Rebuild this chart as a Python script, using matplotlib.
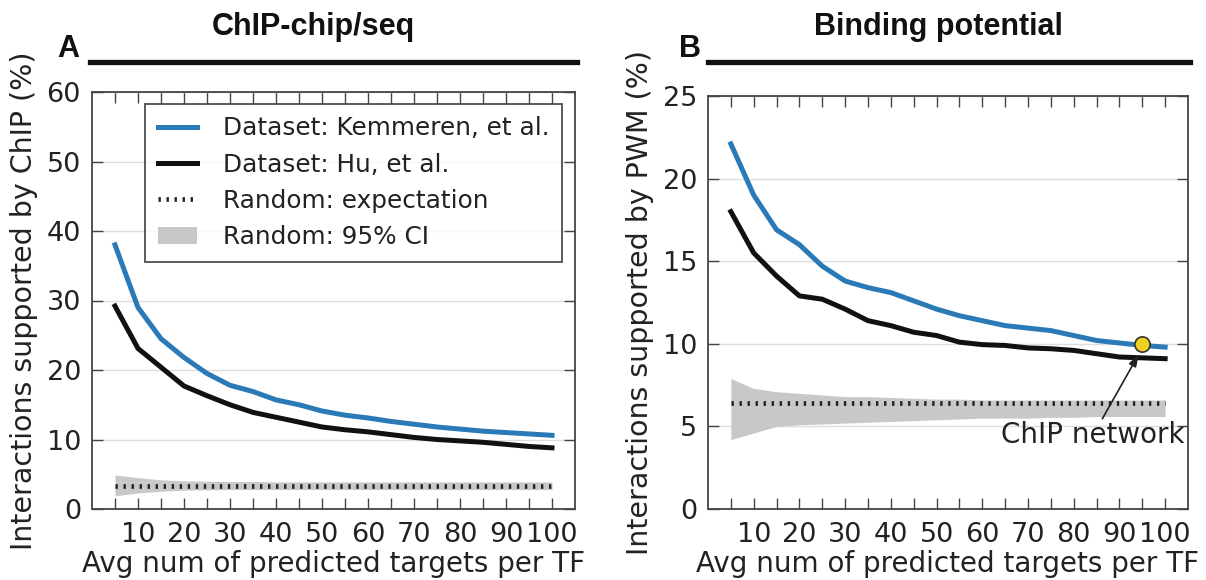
import numpy as np
import matplotlib
matplotlib.use("Agg")
import matplotlib.pyplot as plt
from matplotlib.lines import Line2D
from matplotlib.patches import Patch

x = [5, 10, 15, 20, 25, 30, 35, 40, 45, 50, 55, 60, 65, 70, 75, 80, 85, 90, 95, 100]

chip_kemmeren = [38.0, 29.0, 24.5, 21.8, 19.5, 17.8, 16.9, 15.7, 15.0, 14.1,
                 13.5, 13.1, 12.6, 12.2, 11.8, 11.5, 11.2, 11.0, 10.8, 10.6]
chip_hu = [29.2, 23.1, 20.4, 17.7, 16.3, 15.0, 13.9, 13.2, 12.5, 11.8,
           11.4, 11.1, 10.7, 10.3, 10.0, 9.8, 9.6, 9.3, 9.0, 8.8]
chip_rand = [3.3] * 20
chip_lo = [1.9, 2.3, 2.55, 2.7, 2.75, 2.8, 2.8, 2.8, 2.8, 2.8,
           2.8, 2.8, 2.8, 2.8, 2.8, 2.8, 2.8, 2.8, 2.8, 2.8]
chip_hi = [4.9, 4.5, 4.2, 4.05, 4.0, 3.95, 3.95, 3.9, 3.9, 3.9,
           3.9, 3.9, 3.9, 3.9, 3.9, 3.9, 3.9, 3.9, 3.9, 3.9]

pwm_kemmeren = [22.1, 19.0, 16.9, 16.0, 14.7, 13.8, 13.4, 13.1, 12.6, 12.1,
                11.7, 11.4, 11.1, 10.95, 10.8, 10.5, 10.2, 10.05, 9.9, 9.8]
pwm_hu = [18.0, 15.5, 14.1, 12.9, 12.7, 12.1, 11.4, 11.1, 10.7, 10.5,
          10.1, 9.95, 9.9, 9.75, 9.7, 9.6, 9.4, 9.2, 9.15, 9.1]
pwm_rand = [6.4] * 20
pwm_lo = [4.2, 4.6, 5.0, 5.1, 5.15, 5.2, 5.25, 5.3, 5.35, 5.4,
          5.45, 5.5, 5.5, 5.5, 5.55, 5.55, 5.6, 5.6, 5.6, 5.6]
pwm_hi = [7.9, 7.3, 7.1, 7.0, 6.9, 6.8, 6.8, 6.75, 6.7, 6.65,
          6.65, 6.6, 6.6, 6.6, 6.6, 6.6, 6.6, 6.6, 6.6, 6.6]

chip_point = (95, 10.0)

xticks_all = list(range(5, 105, 5))
xtick_labels = ["" if v % 10 else str(v) for v in xticks_all]

BLUE = "#2a7ab8"
GRAY = "#c8c8c8"
SPINE = "#444444"

plt.rcParams['font.family'] = ['DejaVu Sans']

fig = plt.figure(figsize=(12.06, 5.8), dpi=100)
W, H = 1206, 580


def ax_at(l, t, r, b):
    return fig.add_axes([l / W, 1 - b / H, (r - l) / W, (b - t) / H])


axA = ax_at(92, 92, 575, 509)
axB = ax_at(708, 96, 1188, 509)


def style(ax, ymax, ystep, ylabel, ypad):
    ax.set_xlim(0, 105)
    ax.set_ylim(0, ymax)
    ax.set_xticks(xticks_all)
    ax.set_xticklabels(xtick_labels)
    ax.set_yticks(np.arange(0, ymax + 0.1, ystep))
    ax.tick_params(direction='in', length=8, width=1, color=SPINE,
                   top=True, right=True, labelsize=19.5, labelcolor="#222222")
    ax.tick_params(axis='x', pad=9)
    ax.tick_params(axis='y', pad=8)
    ax.yaxis.grid(True, color="#dddddd", lw=1)
    ax.set_axisbelow(True)
    for s in ax.spines.values():
        s.set_color(SPINE)
        s.set_linewidth(1.3)
    ax.set_xlabel("Avg num of predicted targets per TF", fontsize=20,
                  labelpad=2, color="#222222")
    ax.set_ylabel(ylabel, fontsize=20.5, labelpad=ypad, color="#222222")


dots = (0, (0.5, 1.2))

# Panel A
axA.fill_between(x, chip_lo, chip_hi, color=GRAY, lw=0)
axA.plot(x, chip_rand, color="#222222", lw=3.4, linestyle=dots)
axA.plot(x, chip_kemmeren, color=BLUE, lw=3.6)
axA.plot(x, chip_hu, color="#111111", lw=3.6)
style(axA, 60, 10, "Interactions supported by ChIP (%)", 6)

handles = [Line2D([], [], color=BLUE, lw=3.6),
           Line2D([], [], color="#111111", lw=3.6),
           Line2D([], [], color="#222222", lw=3.4, linestyle=dots),
           Patch(facecolor=GRAY, edgecolor='none')]
labels = ["Dataset: Kemmeren, et al.", "Dataset: Hu, et al.",
          "Random: expectation", "Random: 95% CI"]
leg = axA.legend(handles, labels, loc='upper right', fontsize=17.8,
                 frameon=True, fancybox=False, edgecolor="#222222",
                 borderaxespad=0, handlelength=1.6, handletextpad=1.05,
                 labelspacing=0.5, borderpad=0.5,
                 bbox_to_anchor=((562 - 92) / 483, 1 - (104 - 92) / 417))
leg.get_frame().set_linewidth(1.3)
for t in leg.get_texts():
    t.set_color("#222222")

# Panel B
axB.fill_between(x, pwm_lo, pwm_hi, color=GRAY, lw=0)
axB.plot(x, pwm_rand, color="#222222", lw=3.4, linestyle=dots)
axB.plot(x, pwm_kemmeren, color=BLUE, lw=3.6)
axB.plot(x, pwm_hu, color="#111111", lw=3.6)
axB.plot([chip_point[0]], [chip_point[1]], 'o', ms=11, mfc="#f0d020",
         mec="#333333", mew=1.2, zorder=5)
axB.annotate("ChIP network", xy=(94.2, 9.35), xytext=(84.2, 4.45),
             fontsize=20, ha='center', va='center', color="#222222",
             arrowprops=dict(arrowstyle='-|>,head_length=0.35,head_width=0.12',
                             color='#222222', lw=1.2,
                             shrinkA=0, shrinkB=0),
             zorder=6)
style(axB, 25, 5, "Interactions supported by PWM (%)", 6)

# Header bars and titles
fig.add_artist(Line2D([90 / W, 577 / W], [1 - 62 / H, 1 - 62 / H], color='#111111', lw=3.8))
fig.add_artist(Line2D([708 / W, 1190 / W], [1 - 62 / H, 1 - 62 / H], color='#111111', lw=3.8))
fig.text(313 / W, 1 - 27 / H, "ChIP-chip/seq", ha='center', va='center',
         fontsize=22, fontweight='bold', family='Liberation Sans', color="#111111")
fig.text(938 / W, 1 - 27 / H, "Binding potential", ha='center', va='center',
         fontsize=22, fontweight='bold', family='Liberation Sans', color="#111111")
fig.text(68 / W, 1 - 49 / H, "A", ha='center', va='center',
         fontsize=22, fontweight='bold', family='Liberation Sans', color="#111111")
fig.text(690 / W, 1 - 49 / H, "B", ha='center', va='center',
         fontsize=22, fontweight='bold', family='Liberation Sans', color="#111111")

fig.savefig("out.png", dpi=100)
